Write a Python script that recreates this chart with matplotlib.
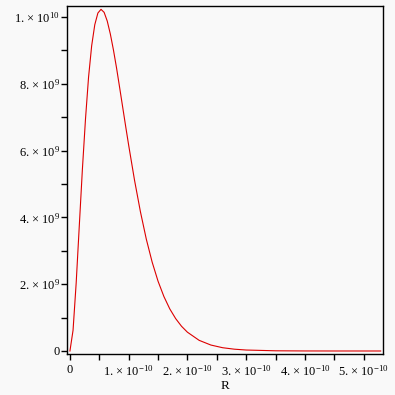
import matplotlib
matplotlib.use("Agg")
import matplotlib.pyplot as plt
from matplotlib.ticker import FixedLocator, MultipleLocator, FuncFormatter

# R in units of 1e-10, P in units of 1e9
R_A = [0, 0.053, 0.106, 0.159, 0.212, 0.265, 0.317, 0.370, 0.423, 0.476,
       0.529, 0.582, 0.635, 0.688, 0.741, 0.794, 0.846, 0.899, 0.952, 1.0,
       1.1, 1.2, 1.3, 1.4, 1.5, 1.6, 1.7, 1.8, 1.9, 2.0,
       2.2, 2.4, 2.6, 2.8, 3.0, 3.5, 4.0, 4.5, 5.29]
P_G = [0, 0.62, 2.03, 3.74, 5.44, 6.95, 8.20, 9.14, 9.77, 10.12,
       10.23, 10.14, 9.88, 9.49, 9.01, 8.47, 7.89, 7.29, 6.69, 6.16,
       5.11, 4.17, 3.35, 2.66, 2.09, 1.63, 1.26, 0.97, 0.74, 0.563,
       0.319, 0.178, 0.098, 0.054, 0.029, 0.006, 0.0012, 0.0002, 0.0]

X_TICKS = [0, 1, 2, 3, 4, 5]
Y_TICKS = [0, 2, 4, 6, 8, 10]

BG = "#f9f9f9"

plt.rcParams["font.family"] = ["Liberation Serif", "DejaVu Serif"]
plt.rcParams["mathtext.fontset"] = "custom"
plt.rcParams["mathtext.rm"] = "Liberation Serif"
plt.rcParams["mathtext.it"] = "Liberation Serif"
plt.rcParams["mathtext.default"] = "rm"

fig = plt.figure(figsize=(3.95, 3.95), dpi=100, facecolor=BG)
ax = fig.add_axes([67 / 395, 41 / 395, 316 / 395, 348 / 395])
ax.set_facecolor(BG)

R = [r * 1e-10 for r in R_A]
P = [p * 1e9 for p in P_G]
ax.plot(R, P, color="#dd0000", lw=0.8)

ax.set_xlim(-0.05e-10, 5.33e-10)
ax.set_ylim(-0.09e9, 10.33e9)


def xfmt(v, pos):
    n = round(v / 1e-10)
    if n == 0:
        return "0"
    return "%d. \u00d7 10$^{-10}$" % n


def yfmt(v, pos):
    n = round(v / 1e9)
    if n == 0:
        return "0"
    if n == 10:
        return "1. \u00d7 10$^{10}$"
    return "%d. \u00d7 10$^{9}$" % n


ax.xaxis.set_major_locator(FixedLocator([t * 1e-10 for t in X_TICKS]))
ax.xaxis.set_minor_locator(MultipleLocator(0.5e-10))
ax.yaxis.set_major_locator(FixedLocator([t * 1e9 for t in Y_TICKS]))
ax.yaxis.set_minor_locator(MultipleLocator(1e9))
ax.xaxis.set_major_formatter(FuncFormatter(xfmt))
ax.yaxis.set_major_formatter(FuncFormatter(yfmt))

ax.tick_params(which="both", direction="out", length=4, width=1,
               labelsize=9, pad=3)
ax.tick_params(axis="y", pad=1)
for s in ax.spines.values():
    s.set_linewidth(1.0)

ax.set_xlabel("R", fontsize=9.5, labelpad=1)

fig.savefig("out.png", dpi=100, facecolor=BG)
